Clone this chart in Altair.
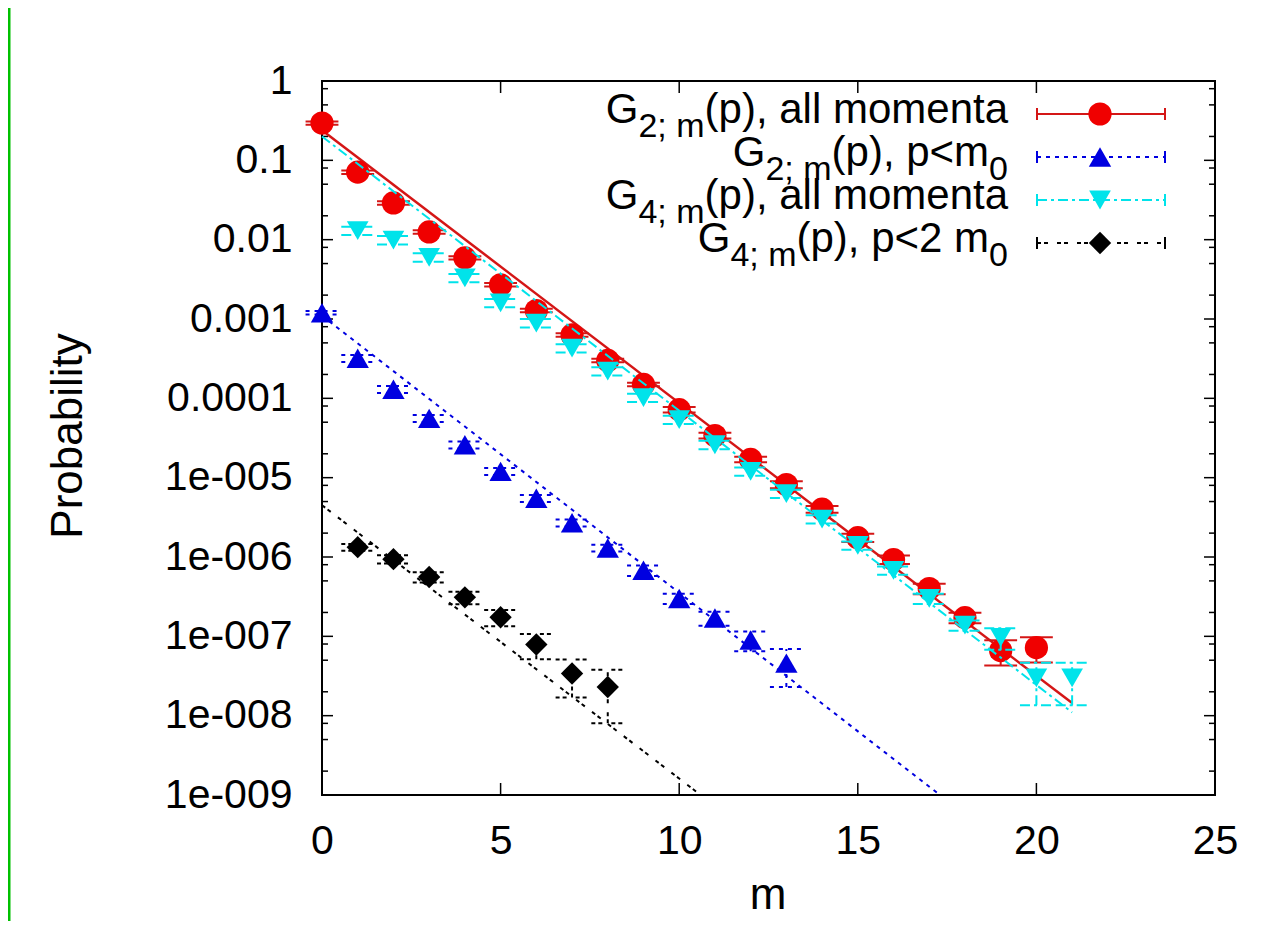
import json
import altair as alt
import pandas as pd

# ---------------- data ----------------
# G_{2;m}(p), all momenta (red circles)
m_g2_all = list(range(0, 21))
p_g2_all = [0.295, 0.071, 0.029, 0.0125, 0.0059, 0.0027, 0.00128, 0.00063, 0.0003, 0.00015,
            7.2e-5, 3.4e-5, 1.7e-5, 8.2e-6, 4.0e-6, 1.75e-6, 9.3e-7, 4.0e-7, 1.72e-7, 6.6e-8, 7.2e-8]
f_g2_all = [0.05, 0.05, 0.05, 0.05, 0.05, 0.05, 0.05, 0.05, 0.05, 0.05,
            0.08, 0.08, 0.08, 0.1, 0.1, 0.12, 0.12, 0.15, 0.15, 0.35, 0.35]

# G_{2;m}(p), p<m0 (blue up-triangles)
m_g2_low = list(range(0, 14))
p_g2_low = [0.0012, 3.2e-4, 1.3e-4, 5.6e-5, 2.6e-5, 1.2e-5, 5.5e-6, 2.7e-6, 1.3e-6, 6.8e-7,
            3.0e-7, 1.7e-7, 9.0e-8, 4.6e-8]
f_g2_low = [0.05, 0.1, 0.1, 0.1, 0.1, 0.1, 0.1, 0.1, 0.1, 0.15, 0.15, 0.2, 0.28, 0.5]

# G_{4;m}(p), all momenta (cyan down-triangles)
m_g4_all = list(range(1, 22))
p_g4_all = [0.013, 0.0099, 0.006, 0.0033, 0.0016, 0.00089, 0.00043, 0.00022, 1.02e-4, 5.4e-5,
            2.6e-5, 1.2e-5, 6.3e-6, 3.0e-6, 1.4e-6, 6.8e-7, 3.0e-7, 1.38e-7, 9.7e-8, 3.0e-8, 3.0e-8]
f_g4_all = [0.12, 0.12, 0.12, 0.12, 0.12, 0.12, 0.12, 0.12, 0.12, 0.12, 0.12, 0.12,
            0.12, 0.12, 0.12, 0.12, 0.15, 0.15, 0.3, 0.55, 0.55]

# G_{4;m}(p), p<2 m0 (black diamonds)
m_g4_low = list(range(1, 9))
p_g4_low = [1.33e-6, 9.4e-7, 5.6e-7, 3.1e-7, 1.74e-7, 7.9e-8, 3.4e-8, 2.3e-8]
f_g4_low = [0.1, 0.12, 0.15, 0.18, 0.23, 0.35, 0.5, 0.65]

# fitted exponential lines (end points)
fit_g2_all_m = [0, 21];   fit_g2_all_p = [0.24, 1.44e-8]
fit_g2_low_m = [0, 17.3]; fit_g2_low_p = [1.1e-3, 1e-9]
fit_g4_all_m = [0, 21];   fit_g4_all_p = [0.2, 1.1e-8]
fit_g4_low_m = [0, 10.6]; fit_g4_low_p = [4.5e-6, 1e-9]

# axes
x_ticks = [0, 5, 10, 15, 20, 25]
y_ticks = [1, 0.1, 0.01, 0.001, 0.0001, 1e-5, 1e-6, 1e-7, 1e-8, 1e-9]
y_labels = ["1", "0.1", "0.01", "0.001", "0.0001", "1e-005", "1e-006", "1e-007", "1e-008", "1e-009"]
y_minor_mult = [2, 5, 8]

# ---------------- layout / style ----------------
FONT = "Liberation Sans"
W, H = 893, 714
PAD = {"left": 314, "top": 73, "right": 41, "bottom": 126}

xs = alt.Scale(domain=[0, 25], nice=False, zero=False)
ys = alt.Scale(type="log", domain=[1e-9, 1], nice=False)

label_expr = json.dumps(y_labels) + "[round(-log(datum.value)/LN10)]"
x_axis = alt.Axis(values=x_ticks, labelFontSize=41, labelFont=FONT, labelColor="black",
                  labelPadding=26, labelFlush=False, labelOverlap=False,
                  domain=False, ticks=False, grid=False, title=None)
y_axis = alt.Axis(values=y_ticks, labelExpr=label_expr, labelFontSize=41, labelFont=FONT,
                  labelColor="black", labelPadding=30, labelOverlap=False, labelFlush=False,
                  domain=False, ticks=False, grid=False, title=None)


def X(f):
    return alt.X(f, type="quantitative", scale=xs, axis=x_axis)


def Y(f):
    return alt.Y(f, type="quantitative", scale=ys, axis=y_axis)


def series(ms, ps, fs, fit_m, fit_p, color, line_color, shape, size, dash, lw=2):
    df = pd.DataFrame({"m": ms, "p": ps, "f": fs})
    base = alt.Chart(df).transform_calculate(
        lo="datum.p*(1-datum.f)", hi="datum.p*(1+datum.f)",
        xl="datum.m-0.46", xr="datum.m+0.46")
    rkw = dict(color=line_color, strokeWidth=2)
    if dash:
        rkw["strokeDash"] = dash
    err = base.mark_rule(**rkw).encode(x=X("m"), y=Y("lo"), y2="hi:Q")
    cap_lo = base.mark_rule(**rkw).encode(x=X("xl"), x2="xr:Q", y=Y("lo"))
    cap_hi = base.mark_rule(**rkw).encode(x=X("xl"), x2="xr:Q", y=Y("hi"))
    lkw = dict(rkw)
    lkw["strokeWidth"] = lw
    fit = alt.Chart(pd.DataFrame({"m": fit_m, "p": fit_p})).mark_line(**lkw).encode(x=X("m"), y=Y("p"))
    pts = base.mark_point(shape=shape, filled=True, size=size, color=color, opacity=1,
                          strokeWidth=0).encode(x=X("m"), y=Y("p"))
    return [err, cap_lo, cap_hi, fit, pts]


RED, RED_L = "#f00000", "#d41616"
BLUE = "#0000e0"
CYAN = "#00e3ea"
BLACK = "#000000"
DASH_BLUE = [4, 5]
DASH_CYAN = [10, 4, 3, 4]
DASH_BLACK = [4, 3, 4, 9]

layers = []
# frame ticks (inward, gnuplot style)
ymaj = pd.DataFrame({"v": y_ticks})
ymin = pd.DataFrame({"v": [d * t for t in y_ticks[1:] for d in y_minor_mult]})
xt = pd.DataFrame({"t": x_ticks})
tk = dict(color="black", strokeWidth=1.5)
layers += [
    alt.Chart(ymaj).mark_rule(**tk).encode(y=Y("v"), x=alt.value(0), x2=alt.value(11)),
    alt.Chart(ymaj).mark_rule(**tk).encode(y=Y("v"), x=alt.value(W - 11), x2=alt.value(W)),
    alt.Chart(ymin).mark_rule(**tk).encode(y=Y("v"), x=alt.value(0), x2=alt.value(6)),
    alt.Chart(ymin).mark_rule(**tk).encode(y=Y("v"), x=alt.value(W - 6), x2=alt.value(W)),
    alt.Chart(xt).mark_rule(**tk).encode(x=X("t"), y=alt.value(H), y2=alt.value(H - 12)),
    alt.Chart(xt).mark_rule(**tk).encode(x=X("t"), y=alt.value(0), y2=alt.value(12)),
]

layers += series(m_g2_all, p_g2_all, f_g2_all, fit_g2_all_m, fit_g2_all_p, RED, RED_L, "circle", 540, None, 2.5)
layers += series(m_g2_low, p_g2_low, f_g2_low, fit_g2_low_m, fit_g2_low_p, BLUE, BLUE, "triangle-up", 500, DASH_BLUE)
layers += series(m_g4_all, p_g4_all, f_g4_all, fit_g4_all_m, fit_g4_all_p, CYAN, CYAN, "triangle-down", 470, DASH_CYAN)
layers += series(m_g4_low, p_g4_low, f_g4_low, fit_g4_low_m, fit_g4_low_p, BLACK, BLACK, "diamond", 500, DASH_BLACK)

# ---------------- key (gnuplot style, top right) ----------------
one = pd.DataFrame({"k": [0]})
HW = {'G': 0.778, '(': 0.333, ')': 0.333, 'p': 0.556, ',': 0.278, ' ': 0.278, 'a': 0.556,
      'l': 0.222, 'm': 0.833, 'o': 0.556, 'e': 0.556, 'n': 0.556, 't': 0.278, '<': 0.584,
      '2': 0.556, '4': 0.556, ';': 0.278, '0': 0.556}
FS_MAIN, FS_SUB, SUB_DY = 42, 34, 14
key_rows = [
    ([("G", 0), ("2; m", 1), ("(p), all momenta", 0)], RED, RED_L, "circle", 540, None),
    ([("G", 0), ("2; m", 1), ("(p), p<m", 0), ("0", 1)], BLUE, BLUE, "triangle-up", 500, DASH_BLUE),
    ([("G", 0), ("4; m", 1), ("(p), all momenta", 0)], CYAN, CYAN, "triangle-down", 470, DASH_CYAN),
    ([("G", 0), ("4; m", 1), ("(p), p<2 m", 0), ("0", 1)], BLACK, BLACK, "diamond", 500, DASH_BLACK),
]
TEXT_RIGHT, ROW0, ROW_STEP = 686, 42, 43
S_X1, S_X2, S_XM = 715, 843, 778
for i, (pieces, col, lcol, shape, size, dash) in enumerate(key_rows):
    base_y = ROW0 + i * ROW_STEP
    xr = TEXT_RIGHT
    for txt, sub in reversed(pieces):
        fs = FS_SUB if sub else FS_MAIN
        w = sum(HW[c] for c in txt) * fs
        xl = xr - w
        layers.append(alt.Chart(one).mark_text(
            text=txt, font=FONT, fontSize=fs, align="left", baseline="alphabetic", color="black"
        ).encode(x=alt.value(xl), y=alt.value(base_y + (SUB_DY if sub else 0))))
        xr = xl
    sy = base_y - 9
    rkw = dict(color=lcol, strokeWidth=2)
    if dash:
        rkw["strokeDash"] = dash
    layers.append(alt.Chart(one).mark_rule(**rkw).encode(
        x=alt.value(S_X1), x2=alt.value(S_X2), y=alt.value(sy)))
    for cx in (S_X1, S_X2):
        layers.append(alt.Chart(one).mark_rule(color=lcol, strokeWidth=2).encode(
            x=alt.value(cx), y=alt.value(sy - 6), y2=alt.value(sy + 6)))
    layers.append(alt.Chart(one).mark_point(shape=shape, filled=True, size=size, color=col,
                                            opacity=1, strokeWidth=0).encode(
        x=alt.value(S_XM), y=alt.value(sy)))

# ---------------- titles ----------------
layers.append(alt.Chart(one).mark_text(
    text="Probability", font=FONT, fontSize=44, angle=270, align="center",
    baseline="alphabetic", color="black").encode(x=alt.value(-240), y=alt.value(355)))
layers.append(alt.Chart(one).mark_text(
    text="m", font=FONT, fontSize=44, align="center", baseline="alphabetic",
    color="black").encode(x=alt.value(446), y=alt.value(828)))

# green slide border on the left edge
layers.append(alt.Chart(one).mark_rule(color="#00c000", strokeWidth=3).encode(
    x=alt.value(-PAD["left"] + 1), y=alt.value(-PAD["top"]), y2=alt.value(H + PAD["bottom"])))

chart = alt.layer(*layers).properties(
    width=W, height=H, padding=PAD,
    autosize=alt.AutoSizeParams(type="none"),
    background="white",
).configure_view(stroke="black", strokeWidth=2)

chart.save("out.html", embed_options={"renderer": "svg", "actions": False})
